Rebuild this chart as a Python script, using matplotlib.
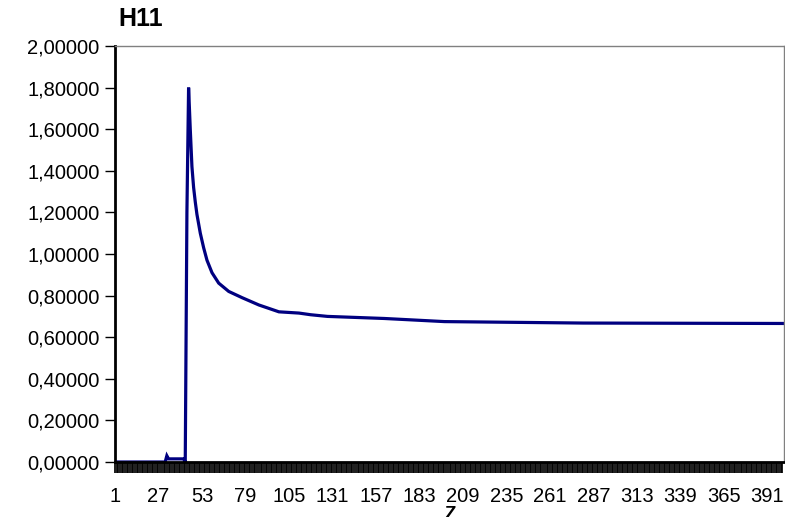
import matplotlib.pyplot as plt
from matplotlib.ticker import FixedLocator, FuncFormatter

plt.rcParams['font.family'] = ['Liberation Sans', 'DejaVu Sans']

# H11 along Z (category index), values read at sample categories
z_cat = [1, 31, 32, 33, 42, 43, 44, 45, 46, 47, 48, 49, 50, 52, 54, 56, 59,
         63, 69, 77, 87, 99, 111, 118, 128, 162, 198, 281, 401]
h11 = [0.0, 0.0, 0.03, 0.015, 0.015, 0.0, 1.20, 1.80, 1.60, 1.42, 1.32, 1.25,
       1.19, 1.10, 1.03, 0.97, 0.91, 0.86, 0.82, 0.79, 0.755, 0.722, 0.716,
       0.708, 0.700, 0.690, 0.675, 0.668, 0.666]

n_cat = 400
x_labels = list(range(1, n_cat, 26))
y_ticks = [i * 0.2 for i in range(11)]

fig = plt.figure(figsize=(7.85, 5.17), dpi=100)
ax = fig.add_axes([115 / 785, 1 - 462 / 517, 669 / 785, 416 / 517])

# line sits under the axis spine so the zero stretch is hidden by it
ax.plot(z_cat, h11, color='#000080', lw=2.3, solid_joinstyle='miter', zorder=2)

ax.set_xlim(1, n_cat + 1)
ax.set_ylim(0, 2.0)

ax.yaxis.set_major_locator(FixedLocator(y_ticks))
ax.yaxis.set_major_formatter(FuncFormatter(lambda v, p: f"{v:.5f}".replace('.', ',')))
ax.tick_params(axis='y', direction='out', length=7, width=1, labelsize=14.5,
               pad=4, colors='black')

ax.xaxis.set_major_locator(FixedLocator(x_labels))
ax.xaxis.set_minor_locator(FixedLocator(range(1, n_cat + 1)))
ax.xaxis.set_major_formatter(FuncFormatter(lambda v, p: str(int(v))))
ax.tick_params(axis='x', which='both', direction='out', length=8, width=1.25,
               colors='black', labelsize=14.5, pad=10)

for side in ('top', 'right'):
    ax.spines[side].set_color('#808080')
    ax.spines[side].set_linewidth(1)
for side in ('left', 'bottom'):
    ax.spines[side].set_color('black')
    ax.spines[side].set_linewidth(2)
    ax.spines[side].set_zorder(2.5)

fig.text(118 / 785, 1 - 19 / 517, 'H11', fontsize=18, fontweight='bold',
         ha='left', va='center')
fig.text(450 / 785, 1 - 506 / 517, 'Z', fontsize=13.5, fontweight='bold',
         ha='center', va='top')

fig.savefig('out.png', dpi=100)
